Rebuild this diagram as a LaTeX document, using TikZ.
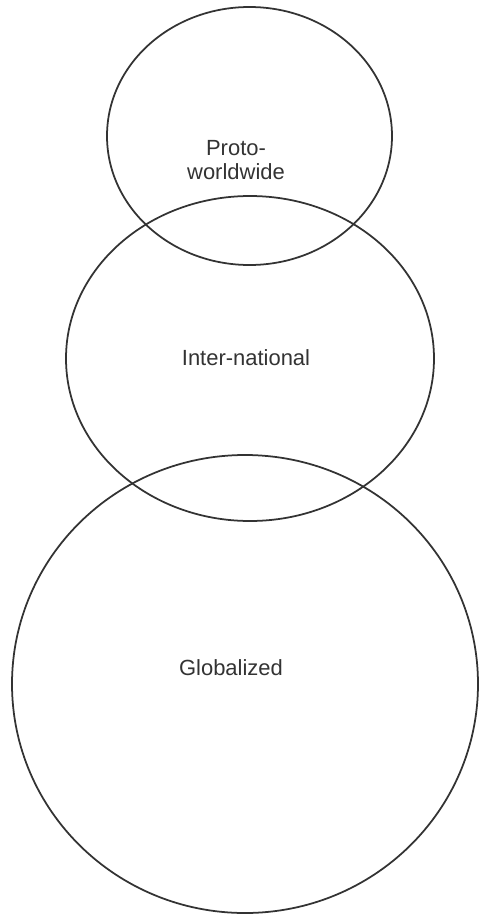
\documentclass[tikz,border=0pt]{standalone}
\usepackage{fontspec}
\setmainfont{Liberation Sans}
\usetikzlibrary{calc}

\tikzset{
  ring/.style={line width=1pt, draw=black!80},
  lbl/.style={font=\fontsize{12.5}{13.6}\selectfont, text=black!80, align=center}
}

\begin{document}
\begin{tikzpicture}[x=0.02cm, y=-0.02cm]
				\useasboundingbox (0,0) rectangle (481,916);
				
				\draw[ring] (249.5,136) ellipse (142.5 and 129);
				\node[lbl] (proto) at (236,160) {Proto-\\worldwide};
				
				\draw[ring] (250,358.5) ellipse (184 and 162.5);
				\node[lbl] (inter) at (246,358) {Inter-national};
				
				\draw[ring] (245,684) ellipse (233 and 229);
				\node[lbl] (glob) at (231,668) {Globalized};
			\end{tikzpicture}
\end{document}
